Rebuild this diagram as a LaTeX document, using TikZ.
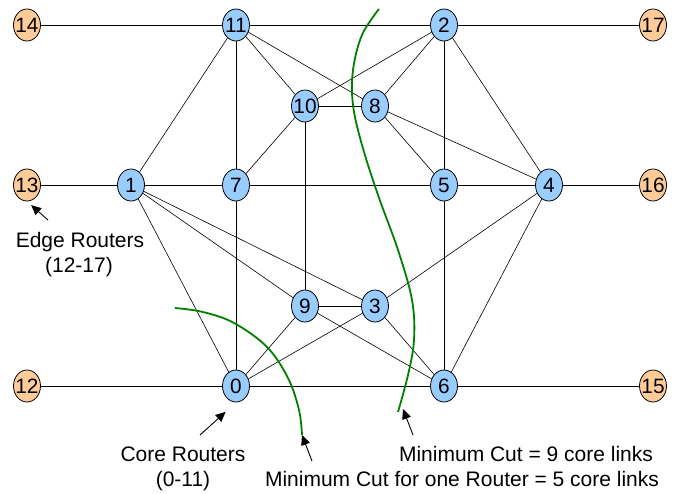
\documentclass[tikz,border=0pt]{standalone}
\usepackage{fontspec}
\setmainfont{Liberation Sans}
\usetikzlibrary{shapes.geometric,arrows.meta}
\definecolor{coreblue}{HTML}{99CCFF}
\definecolor{edgeorange}{HTML}{FFCC99}
\definecolor{cutgreen}{HTML}{008000}
\begin{document}
\begin{tikzpicture}[x=1pt,y=-1pt,
  router/.style={ellipse, draw=black, line width=0.8pt, minimum width=27pt, minimum height=32pt, inner sep=0pt, font=\fontsize{20.8}{24}\selectfont},
  core/.style={router, fill=coreblue},
  edger/.style={router, fill=edgeorange},
  link/.style={line width=0.6pt},
  cutline/.style={cutgreen, line width=1.8pt},
  pointer/.style={-{Triangle[length=10pt,width=9pt]}, line width=0.9pt},
  lbl/.style={font=\fontsize{21}{24}\selectfont, anchor=base, inner sep=0pt}]
\useasboundingbox (0,0) rectangle (677,493);

% routers
\node[edger] (n14) at (27,25) {\makebox[0pt]{14}};
\node[core]  (n11) at (236,25) {\makebox[0pt]{11}};
\node[core]  (n2)  at (444,25) {\makebox[0pt]{2}};
\node[edger] (n17) at (653,25) {\makebox[0pt]{17}};
\node[core]  (n10) at (305,106) {\makebox[0pt]{10}};
\node[core]  (n8)  at (375,106) {\makebox[0pt]{8}};
\node[edger] (n13) at (27,185) {\makebox[0pt]{13}};
\node[core]  (n1)  at (131,185) {\makebox[0pt]{1}};
\node[core]  (n7)  at (236,185) {\makebox[0pt]{7}};
\node[core]  (n5)  at (444,185) {\makebox[0pt]{5}};
\node[core]  (n4)  at (549,185) {\makebox[0pt]{4}};
\node[edger] (n16) at (653,185) {\makebox[0pt]{16}};
\node[core]  (n9)  at (305,306) {\makebox[0pt]{9}};
\node[core]  (n3)  at (375,306) {\makebox[0pt]{3}};
\node[edger] (n12) at (27,386) {\makebox[0pt]{12}};
\node[core]  (n0)  at (236,386) {\makebox[0pt]{0}};
\node[core]  (n6)  at (444,386) {\makebox[0pt]{6}};
\node[edger] (n15) at (653,386) {\makebox[0pt]{15}};

% links
\foreach \a/\b in {n14/n11, n11/n2, n2/n17,
  n13/n1, n1/n7, n7/n5, n5/n4, n4/n16,
  n12/n0, n0/n6, n6/n15,
  n11/n1, n11/n7, n11/n10, n11/n8,
  n2/n10, n2/n8, n2/n5, n2/n4,
  n10/n8, n10/n7, n10/n9,
  n8/n5, n8/n4,
  n1/n0, n1/n9, n1/n3,
  n7/n0, n5/n6, n4/n6, n4/n3,
  n9/n3, n9/n0, n9/n6, n3/n0, n3/n6}
  \draw[link] (\a) -- (\b);

% cuts
\draw[cutline] plot[smooth, tension=0.6] coordinates {(379,9) (362,35) (353,70) (353,105) (362,145) (378,195) (398,250) (412,300) (414,340) (408,375) (398,412)};
\draw[cutline] plot[smooth, tension=0.6] coordinates {(175,308) (203,312) (234,323) (267,347) (288,378) (299,410) (302,435)};

% labels
\node[lbl] (edgelbl) at (80,247) {Edge Routers};
\node[lbl] (edgerng) at (79,272) {(12-17)};
\node[lbl] (corelbl) at (183,461) {Core Routers};
\node[lbl] (corerng) at (183,486) {(0-11)};
\node[lbl] (cut9) at (526,461) {Minimum Cut = 9 core links};
\node[lbl] (cut5) at (462,486) {Minimum Cut for one Router = 5 core links};

% pointers
\coordinate (pe) at (48,220);
\coordinate (pc) at (200,435);
\coordinate (p9t) at (413,435);
\coordinate (p9h) at (403,409);
\coordinate (p5t) at (312,461);
\coordinate (p5h) at (302,435);
\draw[pointer, shorten >=5.5pt] (pe) -- (n13.south);
\draw[pointer, shorten >=14pt] (pc) -- (n0.south);
\draw[pointer] (p9t) -- (p9h);
\draw[pointer] (p5t) -- (p5h);
\end{tikzpicture}
\end{document}
